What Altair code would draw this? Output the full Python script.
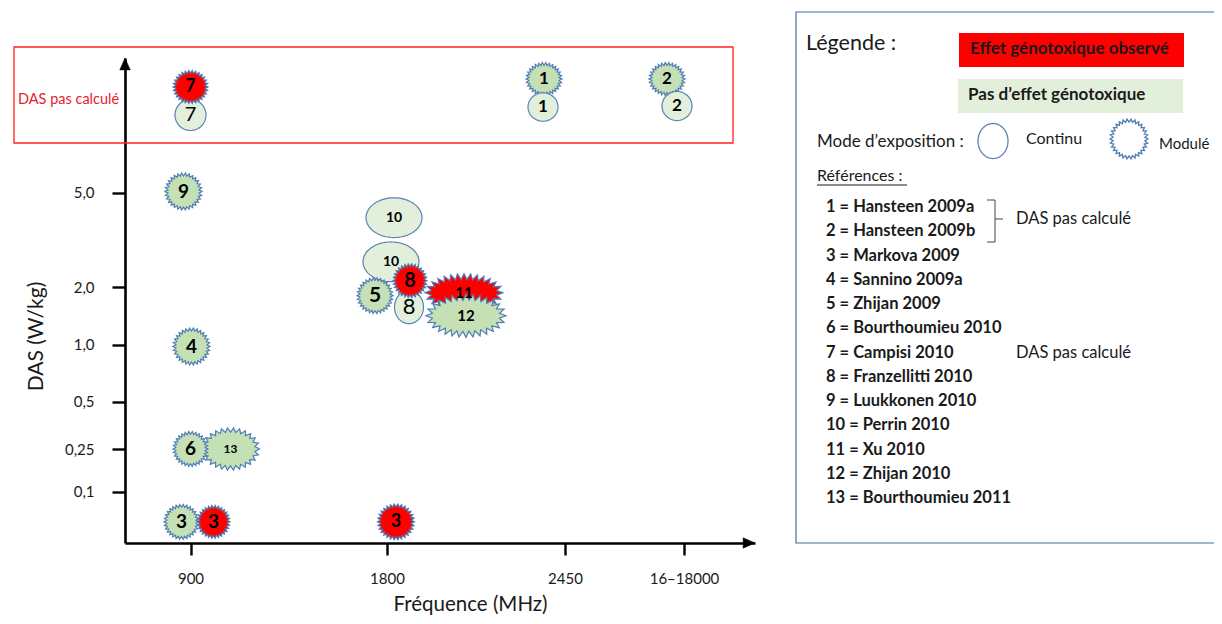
import json
import math
import altair as alt
import numpy as np
import pandas as pd

# ---------------- données ----------------
freq_labels = ["900", "1800", "2450", "16–18000"]
das_ticks = [0.1, 0.25, 0.5, 1.0, 2.0, 5.0]
das_tick_labels = ["0,1", "0,25", "0,5", "1,0", "2,0", "5,0"]

# études (ordre de dessin)
etude_num = ["7", "7", "1", "1", "2", "2", "9", "10", "10", "8", "5", "8", "11", "12", "4", "13", "6", "3", "3", "3"]
etude_freq = ["900", "900", "2450", "2450", "16–18000", "16–18000", "900", "1800", "1800", "1800", "1800", "1800",
              "1800", "1800", "900", "900", "900", "900", "900", "1800"]
etude_das = [None, None, None, None, None, None, 5.0, 4.2, 2.8, 1.65, 1.85, 2.2, 1.9, 1.5, 1.0, 0.25, 0.25,
             0.045, 0.045, 0.045]
etude_mode = ["Continu", "Modulé", "Modulé", "Continu", "Modulé", "Continu", "Modulé", "Continu", "Continu",
              "Continu", "Modulé", "Modulé", "Modulé", "Modulé", "Modulé", "Modulé", "Modulé", "Modulé", "Modulé",
              "Modulé"]
etude_effet = ["Non", "Oui", "Non", "Non", "Non", "Non", "Non", "Non", "Non", "Non", "Non", "Oui", "Oui", "Non",
               "Non", "Non", "Non", "Non", "Oui", "Oui"]
# décalage de lisibilité (px) et gabarit des bulles
decal_x = [0, 0, -21, -22, -17, -7, -7, 7, 4, 22, -12, 23, 77, 79, 1, 40, 0, -9, 23, 9]
decal_y = [15, -13, -21, 7, -21, 6, -1, 0, 0, 0, 0, 0, 0, 0, 2, 0, 0, 2, 2, 2]
bulle_l = [31, 35, 36, 30, 36, 30, 37, 56, 56, 29, 36, 34, 78, 80, 37, 58, 35, 35, 33, 37]
bulle_rapport = [1.0, 0.95, 0.92, 0.95, 0.92, 0.97, 1.0, 0.71, 0.71, 1.14, 1.0, 1.0, 0.49, 0.54, 1.0, 0.73, 1.0,
                 1.0, 1.0, 0.97]
texte_taille = [20, 18, 17, 17, 17, 17, 19, 14, 14, 22, 21, 20, 15, 15, 19, 12, 19, 19, 19, 18]
texte_gras = [False, True, True, True, True, True, True, True, True, False, True, True, True, True, True, True,
              True, True, True, True]

ref_num = list(range(1, 14))
ref_nom = ["Hansteen 2009a", "Hansteen 2009b", "Markova 2009", "Sannino 2009a", "Zhijan 2009",
           "Bourthoumieu 2010", "Campisi 2010", "Franzellitti 2010", "Luukkonen 2010", "Perrin 2010",
           "Xu 2010", "Zhijan 2010", "Bourthoumieu 2011"]
note_pos = [1.5, 7]
note_txt = ["DAS pas calculé", "DAS pas calculé"]

NIVEAU_NC = 10  # niveau « DAS pas calculé »

# ---------------- échelles ----------------
PLOT_W, PLOT_H = 630, 485
X_DOM = [0, 1, 2, 3, 4, 5]
X_RNG = [0, 65.5, 262, 440, 559, 630]
Y_DOM = [0, 0.1, 0.25, 0.5, 1, 2, 5, NIVEAU_NC, 12]
Y_RNG = [485, 433.5, 391, 343.7, 286.5, 229, 134.5, 42, 0]

x_scale = alt.Scale(domain=X_DOM, range=X_RNG, zero=False, nice=False)
y_scale = alt.Scale(domain=Y_DOM, range=Y_RNG, zero=False, nice=False)


def decale(v, d, dom, rng):
    """valeur de donnée décalée de d pixels sur l'échelle linéaire par morceaux"""
    dom = np.asarray(dom, float)
    rng = np.asarray(rng, float)
    p = np.interp(v, dom, rng) + d
    if rng[0] < rng[-1]:
        return float(np.interp(p, rng, dom))
    return float(np.interp(p, rng[::-1], dom[::-1]))


# ---------------- formes ----------------
def ellipse_path(a, n=64):
    pts = []
    for i in range(n):
        t = 2 * math.pi * i / n
        pts.append((math.cos(t), a * math.sin(t)))
    return "M" + " L".join(f"{x:.4f},{y:.4f}" for x, y in pts) + " Z"


def star_path(a, n, d):
    m = 2000
    ts = [2 * math.pi * i / m for i in range(m + 1)]
    cum = [0.0]
    for i in range(1, m + 1):
        x0, y0 = math.cos(ts[i - 1]), a * math.sin(ts[i - 1])
        x1, y1 = math.cos(ts[i]), a * math.sin(ts[i])
        cum.append(cum[-1] + math.hypot(x1 - x0, y1 - y0))
    total = cum[-1]
    pts = []
    j = 0
    for k in range(2 * n):
        target = total * k / (2 * n)
        while cum[j] < target and j < m:
            j += 1
        t = ts[j]
        if k % 2 == 0:
            pts.append((math.cos(t), a * math.sin(t)))
        else:
            pts.append(((1 - d) * math.cos(t), (a - d) * math.sin(t)))
    return "M" + " L".join(f"{x:.4f},{y:.4f}" for x, y in pts) + " Z"


def forme(mode, a, w):
    if mode == "Continu":
        return ellipse_path(a)
    if w > 50:
        return star_path(a, 28 if w > 70 else 26, 0.15)
    return star_path(a, 30, 0.16)


rows = []
for i in range(len(etude_num)):
    xi = freq_labels.index(etude_freq[i]) + 1
    yv = etude_das[i] if etude_das[i] is not None else NIVEAU_NC
    teinte = "Effet génotoxique observé" if etude_effet[i] == "Oui" else f"Pas d'effet – {etude_mode[i]}"
    rows.append(dict(num=etude_num[i], freq=etude_freq[i], das=etude_das[i], mode=etude_mode[i],
                     teinte=teinte,
                     xpos=decale(xi, decal_x[i], X_DOM, X_RNG),
                     ypos=decale(yv, decal_y[i], Y_DOM, Y_RNG),
                     taille=bulle_l[i] ** 2,
                     chemin=forme(etude_mode[i], bulle_rapport[i], bulle_l[i]),
                     ttaille=texte_taille[i], gras=texte_gras[i], ordre=i))
df = pd.DataFrame(rows)

refs = pd.DataFrame({"num": ref_num, "txt": [f"{n} = {nom}" for n, nom in zip(ref_num, ref_nom)]})
notes = pd.DataFrame({"pos": note_pos, "txt": note_txt})

FONT = "Lato"
INK = "#1a1a1a"

x_axis = alt.Axis(
    values=[1, 2, 3, 4], labelExpr=f"{json.dumps(freq_labels)}[datum.value - 1]",
    title="Fréquence (MHz)", domainColor="black", domainWidth=2.6, tickColor="black",
    tickWidth=2.4, tickSize=12, labelPadding=16, labelFontSize=15, labelColor=INK,
    labelFont=FONT, titleFont=FONT, titleFontSize=20.5, titleFontWeight="normal", titleColor=INK,
    titleX=345, titleY=67, titleBaseline="alphabetic", grid=False, labelFlush=False)
y_axis = alt.Axis(
    values=das_ticks,
    labelExpr=f"{json.dumps(das_tick_labels)}[indexof({json.dumps(das_ticks)}, datum.value)]",
    title="DAS (W/kg)", domainColor="black", domainWidth=2.6, tickColor="black", tickWidth=2.4,
    tickSize=13, labelPadding=18, labelFontSize=15, labelColor=INK, labelFont=FONT,
    titleFont=FONT, titleFontSize=21, titleFontWeight="normal", titleColor=INK,
    titleX=-89, titleY=278, titleBaseline="middle", grid=False, labelFlush=False)

base = alt.Chart(df)

bulles = base.mark_point(filled=True, opacity=1, strokeWidth=1.2).encode(
    x=alt.X("xpos:Q", scale=x_scale, axis=x_axis),
    y=alt.Y("ypos:Q", scale=y_scale, axis=y_axis),
    shape=alt.Shape("chemin:N", scale=None, legend=None),
    size=alt.Size("taille:Q", scale=None, legend=None),
    fill=alt.Fill("teinte:N", scale=alt.Scale(
        domain=["Effet génotoxique observé", "Pas d'effet – Continu", "Pas d'effet – Modulé"],
        range=["#FF0000", "#E2EFDA", "#C5E0B4"]), legend=None),
    stroke=alt.Stroke("mode:N", scale=alt.Scale(domain=["Continu", "Modulé"], range=["#5A82B5", "#4F7DB6"]),
                      legend=None),
    order=alt.Order("ordre:Q"),
)


def labels(gras):
    return base.transform_filter(f"datum.gras == {str(gras).lower()}").mark_text(
        font=FONT, fontWeight="bold" if gras else "normal", color="black", baseline="middle",
        align="center").encode(
        x=alt.X("xpos:Q", scale=x_scale, axis=x_axis),
        y=alt.Y("ypos:Q", scale=y_scale, axis=None),
        text="num:N",
        size=alt.Size("ttaille:Q", scale=None, legend=None),
    )


un = pd.DataFrame({"k": [0]})

# flèches des axes
fleche_y = alt.Chart(un).mark_point(
    shape="M0,-1 L0.75,0.7 L-0.75,0.7 Z", filled=True, fill="black", stroke="black", strokeWidth=0.5,
    size=196, opacity=1).encode(x=alt.value(0), y=alt.value(7))
fleche_x = alt.Chart(un).mark_point(
    shape="M1,0 L-0.7,0.75 L-0.7,-0.75 Z", filled=True, fill="black", stroke="black", strokeWidth=0.5,
    size=196, opacity=1).encode(x=alt.value(PLOT_W - 7), y=alt.value(PLOT_H))

# cadre rouge « DAS pas calculé »
cadre_rouge = alt.Chart(un).mark_rect(fill=None, fillOpacity=0, stroke="#FF2020", strokeWidth=1.3).encode(
    x=alt.value(-111), x2=alt.value(608), y=alt.value(-11), y2=alt.value(85))
texte_nc = alt.Chart(un).mark_text(text="DAS pas calculé", font=FONT, fontSize=14.5, color="#E8202A",
                                   align="left", baseline="middle").encode(x=alt.value(-107), y=alt.value(42))

# encadré de légende
cadre_leg = alt.Chart(un).mark_rect(fill="white", stroke="#41719C", strokeWidth=1.2).encode(
    x=alt.value(671), x2=alt.value(1110), y=alt.value(-46), y2=alt.value(485))
leg_titre = alt.Chart(un).mark_text(text="Légende :", font=FONT, fontSize=21.5, color=INK, align="left",
                                    baseline="middle").encode(x=alt.value(681), y=alt.value(-14))
boite_rouge = alt.Chart(un).mark_rect(fill="#FF0000").encode(
    x=alt.value(834), x2=alt.value(1059), y=alt.value(-25), y2=alt.value(9))
boite_verte = alt.Chart(un).mark_rect(fill="#E2EFDA").encode(
    x=alt.value(833), x2=alt.value(1058), y=alt.value(21), y2=alt.value(55))
txt_rouge = alt.Chart(un).mark_text(text="Effet génotoxique observé", font=FONT, fontSize=17, fontWeight="bold",
                                    color=INK, align="left", baseline="middle").encode(
    x=alt.value(845), y=alt.value(-9))
txt_vert = alt.Chart(un).mark_text(text="Pas d’effet génotoxique", font=FONT, fontSize=17, fontWeight="bold",
                                   color=INK, align="left", baseline="middle").encode(
    x=alt.value(843), y=alt.value(37))
txt_mode = alt.Chart(un).mark_text(text="Mode d’exposition :", font=FONT, fontSize=17, color=INK,
                                   align="left", baseline="middle").encode(x=alt.value(692), y=alt.value(84))
sym_continu = alt.Chart(un).mark_point(shape=ellipse_path(1.17), size=30 ** 2, filled=False, stroke="#5A82B5",
                                       strokeWidth=1.3, opacity=1).encode(x=alt.value(868), y=alt.value(83))
txt_continu = alt.Chart(un).mark_text(text="Continu", font=FONT, fontSize=16, color=INK, align="left",
                                      baseline="middle").encode(x=alt.value(901), y=alt.value(81))
sym_module = alt.Chart(un).mark_point(shape=star_path(1.05, 30, 0.16), size=38 ** 2, filled=False,
                                      stroke="#4F7DB6", strokeWidth=1.3, opacity=1).encode(
    x=alt.value(1004), y=alt.value(81))
txt_module = alt.Chart(un).mark_text(text="Modulé", font=FONT, fontSize=15, color=INK, align="left",
                                     baseline="middle").encode(x=alt.value(1034), y=alt.value(86))
txt_refs = alt.Chart(un).mark_text(text="Références  :", font=FONT, fontSize=16, color=INK, align="left",
                                   baseline="middle").encode(x=alt.value(692), y=alt.value(118))
soul_refs = alt.Chart(un).mark_rule(color=INK, strokeWidth=1).encode(
    x=alt.value(692), x2=alt.value(782), y=alt.value(127))

ref_scale = alt.Scale(domain=[1, 13], range=[149, 440], zero=False, nice=False)
liste_refs = alt.Chart(refs).mark_text(font=FONT, fontSize=16.5, fontWeight="bold", color=INK, align="left",
                                       baseline="middle").encode(
    x=alt.value(701), y=alt.Y("num:Q", scale=ref_scale, axis=None), text="txt:N")
liste_notes = alt.Chart(notes).mark_text(font=FONT, fontSize=16.5, color=INK, align="left",
                                         baseline="middle").encode(
    x=alt.value(891), y=alt.Y("pos:Q", scale=ref_scale, axis=None), text="txt:N")

acc_style = dict(color="#444", strokeWidth=1)
acc1 = alt.Chart(un).mark_rule(**acc_style).encode(x=alt.value(862), x2=alt.value(870), y=alt.value(142))
acc2 = alt.Chart(un).mark_rule(**acc_style).encode(x=alt.value(870), y=alt.value(142), y2=alt.value(184))
acc3 = alt.Chart(un).mark_rule(**acc_style).encode(x=alt.value(862), x2=alt.value(870), y=alt.value(184))
acc4 = alt.Chart(un).mark_rule(**acc_style).encode(x=alt.value(870), x2=alt.value(878), y=alt.value(161))

chart = alt.layer(
    cadre_rouge, texte_nc, bulles, labels(True), labels(False), fleche_y, fleche_x,
    cadre_leg, leg_titre, boite_rouge, boite_verte, txt_rouge, txt_vert, txt_mode, sym_continu, txt_continu,
    sym_module, txt_module, txt_refs, soul_refs, liste_refs, liste_notes, acc1, acc2, acc3, acc4,
).resolve_scale(y="independent").properties(
    width=PLOT_W, height=PLOT_H,
    autosize=alt.AutoSizeParams(type="none"),
    padding={"left": 117, "top": 50, "right": 459, "bottom": 73},
    background="white",
).configure_view(stroke=None)

chart.save("out.html", embed_options={"renderer": "svg", "actions": False})
